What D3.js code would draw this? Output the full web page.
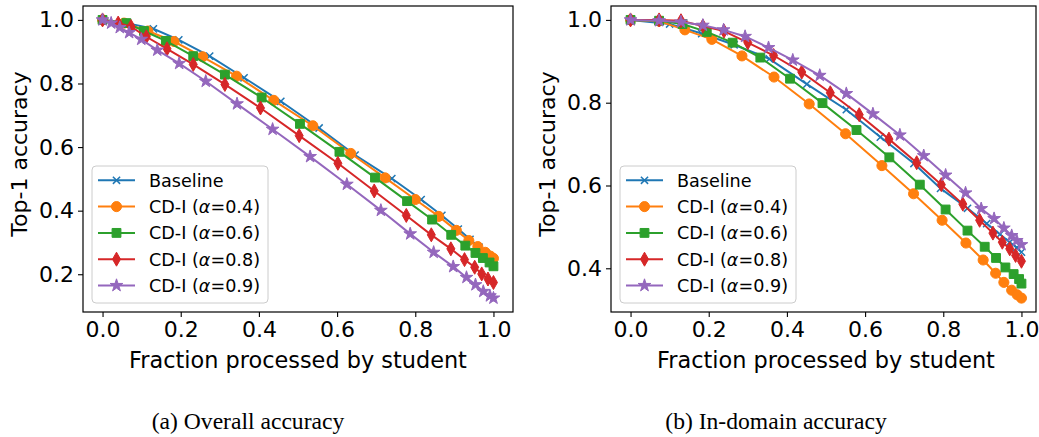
<!DOCTYPE html>
<html>
<head>
<meta charset="utf-8">
<script src="https://cdn.jsdelivr.net/npm/d3@7"></script>
<style>
  body { margin: 0; background: #fff; }
  svg text { font-family: "DejaVu Sans", sans-serif; fill: #000; }
  .caption { font-family: "Liberation Serif", "Times New Roman", serif; }
</style>
</head>
<body>
<svg id="fig" width="1039" height="437"></svg>
<script>
// ---- data: (a) overall accuracy ----
const overallBaselineX = [0, 0.05, 0.13, 0.195, 0.274, 0.362, 0.456, 0.554, 0.646, 0.740, 0.815, 0.868, 0.91, 0.94, 0.963, 0.982, 1.0];
const overallBaselineY = [1.0, 0.993, 0.972, 0.937, 0.886, 0.818, 0.744, 0.660, 0.575, 0.501, 0.435, 0.385, 0.342, 0.31, 0.285, 0.265, 0.248];
const overallA04X = [0, 0.055, 0.116, 0.183, 0.256, 0.343, 0.438, 0.538, 0.635, 0.723, 0.800, 0.860, 0.905, 0.937, 0.960, 0.979, 0.992, 1.0];
const overallA04Y = [1.0, 0.99, 0.965, 0.932, 0.884, 0.823, 0.747, 0.667, 0.580, 0.503, 0.435, 0.382, 0.338, 0.306, 0.287, 0.269, 0.257, 0.25];
const overallA06X = [0, 0.061, 0.106, 0.162, 0.232, 0.313, 0.407, 0.505, 0.606, 0.697, 0.779, 0.843, 0.892, 0.928, 0.954, 0.973, 0.99, 1.0];
const overallA06Y = [1.0, 0.990, 0.965, 0.934, 0.886, 0.828, 0.756, 0.673, 0.585, 0.504, 0.430, 0.372, 0.324, 0.290, 0.267, 0.251, 0.237, 0.225];
const overallA08X = [0, 0.04, 0.073, 0.112, 0.165, 0.232, 0.313, 0.404, 0.503, 0.602, 0.695, 0.777, 0.841, 0.891, 0.926, 0.952, 0.970, 0.986, 1.0];
const overallA08Y = [1.0, 0.99, 0.979, 0.947, 0.909, 0.860, 0.797, 0.723, 0.636, 0.549, 0.462, 0.385, 0.324, 0.280, 0.246, 0.222, 0.201, 0.185, 0.174];
const overallA09X = [0, 0.022, 0.044, 0.068, 0.099, 0.140, 0.196, 0.264, 0.344, 0.435, 0.531, 0.625, 0.712, 0.787, 0.847, 0.897, 0.931, 0.954, 0.974, 0.991, 1.0];
const overallA09Y = [1.0, 0.990, 0.976, 0.960, 0.939, 0.905, 0.863, 0.807, 0.736, 0.656, 0.570, 0.483, 0.401, 0.327, 0.269, 0.224, 0.190, 0.167, 0.146, 0.132, 0.125];

// ---- data: (b) in-domain accuracy ----
const domainBaselineX = [0, 0.1, 0.182, 0.265, 0.355, 0.451, 0.552, 0.639, 0.725, 0.793, 0.862, 0.911, 0.945, 0.970, 0.988, 1.0];
const domainBaselineY = [1.0, 0.99, 0.967, 0.94, 0.906, 0.845, 0.783, 0.717, 0.653, 0.593, 0.545, 0.508, 0.482, 0.463, 0.45, 0.439];
const domainA04X = [0, 0.073, 0.139, 0.208, 0.285, 0.367, 0.457, 0.550, 0.643, 0.724, 0.797, 0.858, 0.902, 0.934, 0.955, 0.975, 0.989, 1.0];
const domainA04Y = [1.0, 0.997, 0.976, 0.953, 0.913, 0.862, 0.797, 0.725, 0.648, 0.580, 0.516, 0.461, 0.420, 0.388, 0.366, 0.347, 0.336, 0.328];
const domainA06X = [0, 0.073, 0.133, 0.195, 0.261, 0.332, 0.408, 0.491, 0.578, 0.662, 0.740, 0.806, 0.862, 0.906, 0.935, 0.959, 0.980, 0.994, 1.0];
const domainA06Y = [1.0, 0.998, 0.990, 0.971, 0.945, 0.909, 0.858, 0.799, 0.734, 0.668, 0.602, 0.542, 0.491, 0.452, 0.425, 0.402, 0.386, 0.374, 0.363];
const domainA08X = [0, 0.073, 0.129, 0.185, 0.239, 0.300, 0.366, 0.438, 0.511, 0.585, 0.661, 0.732, 0.795, 0.850, 0.893, 0.927, 0.951, 0.970, 0.985, 1.0];
const domainA08Y = [1.0, 1.0, 0.998, 0.985, 0.973, 0.945, 0.914, 0.874, 0.824, 0.771, 0.712, 0.655, 0.602, 0.555, 0.516, 0.485, 0.463, 0.447, 0.431, 0.417];
const domainA09X = [0, 0.073, 0.129, 0.185, 0.238, 0.293, 0.353, 0.415, 0.484, 0.552, 0.620, 0.689, 0.750, 0.806, 0.857, 0.897, 0.930, 0.955, 0.975, 0.988, 1.0];
const domainA09Y = [1.0, 0.998, 0.995, 0.987, 0.976, 0.960, 0.933, 0.903, 0.866, 0.822, 0.773, 0.722, 0.672, 0.625, 0.582, 0.544, 0.520, 0.497, 0.479, 0.467, 0.457];

const xTicks = [0, 0.2, 0.4, 0.6, 0.8, 1.0];
const overallYTicks = [0.2, 0.4, 0.6, 0.8, 1.0];
const domainYTicks = [0.4, 0.6, 0.8, 1.0];
const alphas = [0.4, 0.6, 0.8, 0.9];

const colors = ['#1f77b4', '#ff7f0e', '#2ca02c', '#d62728', '#9467bd'];
const markers = ['x', 'circle', 'square', 'thinDiamond', 'star'];

const zip = (xs, ys) => xs.map((x, i) => [x, ys[i]]);

const panels = [
    {
        left: 83, top: 6, bottom: 312, frameRight: 513,
        yTicks: overallYTicks,
        caption: '(a) Overall accuracy',
        series: [
            zip(overallBaselineX, overallBaselineY),
            zip(overallA04X, overallA04Y),
            zip(overallA06X, overallA06Y),
            zip(overallA08X, overallA08Y),
            zip(overallA09X, overallA09Y)
        ]
    },
    {
        left: 611, top: 6, bottom: 312, frameRight: 1036,
        yTicks: domainYTicks,
        caption: '(b) In-domain accuracy',
        series: [
            zip(domainBaselineX, domainBaselineY),
            zip(domainA04X, domainA04Y),
            zip(domainA06X, domainA06Y),
            zip(domainA08X, domainA08Y),
            zip(domainA09X, domainA09Y)
        ]
    }
];

function markerPath(kind) {
    switch (kind) {
        case 'circle': return d3.symbol(d3.symbolCircle, 80)();
        case 'square': return d3.symbol(d3.symbolSquare, 78)();
        case 'star': return d3.symbol(d3.symbolStar, 50)();
        case 'thinDiamond': return 'M0,-7L4,0L0,7L-4,0Z';
        default: return 'M-3.6,-3.6L3.6,3.6M-3.6,3.6L3.6,-3.6';
    }
}

function drawMarker(g, i, x, y) {
    const m = g.append('path')
        .attr('d', markerPath(markers[i]))
        .attr('transform', `translate(${x},${y})`);
    if (markers[i] === 'x') {
        m.attr('fill', 'none').attr('stroke', colors[i]).attr('stroke-width', 1.5);
    } else {
        m.attr('fill', colors[i]).attr('stroke', colors[i]).attr('stroke-width', 1);
    }
}

function legendLabel(textSel, i) {
    if (i === 0) {
        textSel.text('Baseline');
        return;
    }
    textSel.append('tspan').text('CD-I (');
    textSel.append('tspan').attr('font-style', 'italic').text('α');
    textSel.append('tspan').text(`=${alphas[i - 1].toFixed(1)})`);
}

const svg = d3.select('#fig');

function drawPanel(p) {
    const g = svg.append('g');
    const width = 430;

    const x = d3.scaleLinear().domain([-0.05, 1.05]).range([p.left, p.left + width]);

    const all = p.series.flat().map(d => d[1]);
    const lo = d3.min(all), hi = d3.max(all);
    const pad = (hi - lo) * 0.05;
    const y = d3.scaleLinear().domain([lo - pad, hi + pad]).range([p.bottom, p.top]);

    // axes
    const xAxis = g.append('g')
        .attr('transform', `translate(0,${p.bottom})`)
        .call(d3.axisBottom(x).tickValues(xTicks).tickFormat(d3.format('.1f')).tickSize(5).tickPadding(4));
    const yAxis = g.append('g')
        .attr('transform', `translate(${p.left},0)`)
        .call(d3.axisLeft(y).tickValues(p.yTicks).tickFormat(d3.format('.1f')).tickSize(5).tickPadding(4));
    [xAxis, yAxis].forEach(a => {
        a.select('.domain').remove();
        a.selectAll('line').attr('stroke', '#000').attr('stroke-width', 1.1);
        a.selectAll('text').attr('font-size', 22).attr('font-family', '"DejaVu Sans", sans-serif').attr('fill', '#000');
    });

    // series
    const line = d3.line().x(d => x(d[0])).y(d => y(d[1]));
    p.series.forEach((data, i) => {
        const sg = g.append('g');
        sg.append('path')
            .attr('d', line(data))
            .attr('fill', 'none')
            .attr('stroke', colors[i])
            .attr('stroke-width', 2);
        data.forEach(d => drawMarker(sg, i, x(d[0]), y(d[1])));
    });

    // frame
    g.append('rect')
        .attr('x', p.left).attr('y', p.top)
        .attr('width', p.frameRight - p.left).attr('height', p.bottom - p.top)
        .attr('fill', 'none').attr('stroke', '#000').attr('stroke-width', 1.2);

    // legend (lower left)
    const lx = p.left + 9, lw = 176, lh = 137;
    const ly = p.bottom - 9 - lh;
    const lg = g.append('g').attr('transform', `translate(${lx},${ly})`);
    lg.append('rect')
        .attr('width', lw).attr('height', lh).attr('rx', 4)
        .attr('fill', '#fff').attr('fill-opacity', 0.8)
        .attr('stroke', '#cccccc').attr('stroke-width', 1);
    colors.forEach((c, i) => {
        const ry = 14.3 + i * 26.3;
        lg.append('line')
            .attr('x1', 6).attr('x2', 43).attr('y1', ry).attr('y2', ry)
            .attr('stroke', c).attr('stroke-width', 2);
        drawMarker(lg, i, 24.5, ry);
        const t = lg.append('text')
            .attr('x', 57).attr('y', ry)
            .attr('dy', '0.36em')
            .attr('font-size', 17.6);
        legendLabel(t, i);
    });

    // axis labels
    const cx = (x(0) + x(1)) / 2;
    g.append('text')
        .attr('x', cx).attr('y', 368)
        .attr('text-anchor', 'middle')
        .attr('font-size', 22.4)
        .text('Fraction processed by student');
    g.append('text')
        .attr('transform', `translate(${p.left - 56},${(p.top + p.bottom) / 2 - 5}) rotate(-90)`)
        .attr('text-anchor', 'middle')
        .attr('font-size', 22)
        .text('Top-1 accuracy');

    // caption
    g.append('text')
        .attr('class', 'caption')
        .attr('x', cx - 50).attr('y', 429)
        .attr('text-anchor', 'middle')
        .attr('font-size', 23.6)
        .text(p.caption);
}

panels.forEach(drawPanel);
</script>
</body>
</html>
